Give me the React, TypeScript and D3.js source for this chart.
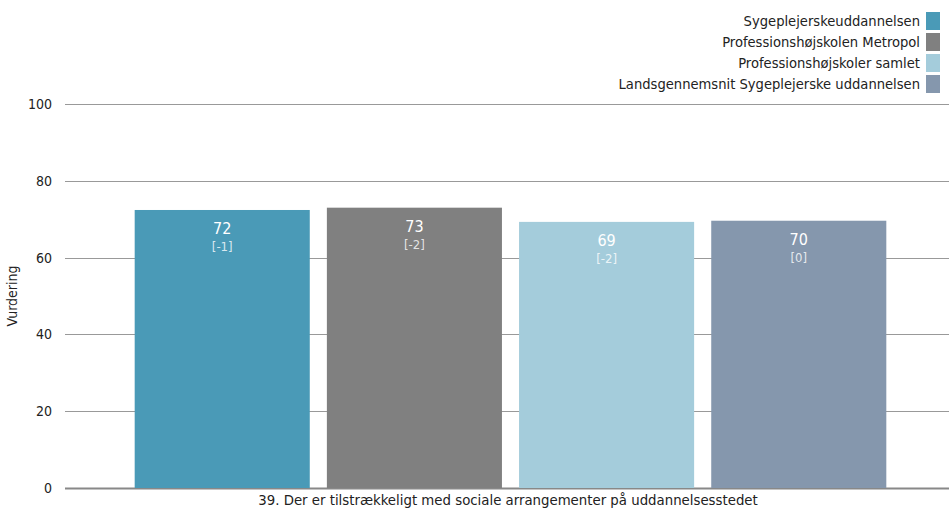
import { useRef, useEffect } from "react";
import * as d3 from "d3";

const series = [
  "Sygeplejerskeuddannelsen",
  "Professionshøjskolen Metropol",
  "Professionshøjskoler samlet",
  "Landsgennemsnit Sygeplejerske uddannelsen",
];
const values = [72.4, 73.0, 69.3, 69.6];
const changes = ["[-1]", "[-2]", "[-2]", "[0]"];
const colors = ["#4a9ab7", "#808080", "#a4ccdb", "#8597ad"];
const yTicks = [0, 20, 40, 60, 80, 100];
const category = "39. Der er tilstrækkeligt med sociale arrangementer på uddannelsesstedet";

const W = 949;
const H = 510;
const FONT = "Tahoma, 'DejaVu Sans Condensed', 'Liberation Sans', sans-serif";

export default function App() {
  const ref = useRef(null);

  useEffect(() => {
    const svg = d3.select(ref.current);
    svg.selectAll("*").remove();

    const y = d3.scaleLinear().domain([0, 100]).range([488, 104]);
    const x = d3.scaleBand().domain(series).range([127, 894]).paddingInner(0.089).paddingOuter(0.04);

    // gridlines
    svg
      .append("g")
      .selectAll("line")
      .data(yTicks)
      .join("line")
      .attr("x1", 65)
      .attr("x2", W)
      .attr("y1", (d) => Math.round(y(d)) + 0.5)
      .attr("y2", (d) => Math.round(y(d)) + 0.5)
      .attr("stroke", (d) => (d === 0 ? "#888" : "#999"))
      .attr("stroke-width", (d) => (d === 0 ? 2 : 1));

    svg
      .append("g")
      .selectAll("text")
      .data(yTicks)
      .join("text")
      .attr("x", 52)
      .attr("y", (d) => y(d))
      .attr("dy", "0.35em")
      .attr("text-anchor", "end")
      .attr("font-size", 14)
      .attr("fill", "#222")
      .text((d) => d);

    svg
      .append("text")
      .attr("transform", `translate(17,${y(50)}) rotate(-90)`)
      .attr("text-anchor", "middle")
      .attr("font-size", 14)
      .attr("fill", "#222")
      .text("Vurdering");

    const bars = svg.append("g").selectAll("g").data(series).join("g");
    bars
      .append("rect")
      .attr("x", (d) => x(d))
      .attr("width", x.bandwidth())
      .attr("y", (d, i) => y(values[i]))
      .attr("height", (d, i) => y(0) - y(values[i]))
      .attr("fill", (d, i) => colors[i]);
    bars
      .append("text")
      .attr("x", (d) => x(d) + x.bandwidth() / 2)
      .attr("y", (d, i) => y(values[i]) + 24)
      .attr("text-anchor", "middle")
      .attr("font-size", 16)
      .attr("fill", "#fff")
      .text((d, i) => Math.round(values[i]));
    bars
      .append("text")
      .attr("x", (d) => x(d) + x.bandwidth() / 2)
      .attr("y", (d, i) => y(values[i]) + 41)
      .attr("text-anchor", "middle")
      .attr("font-size", 13)
      .attr("fill", "#fff")
      .attr("fill-opacity", 0.8)
      .text((d, i) => changes[i]);

    svg
      .append("text")
      .attr("x", 508)
      .attr("y", 505)
      .attr("text-anchor", "middle")
      .attr("font-size", 14.8)
      .attr("fill", "#222")
      .text(category);

    // legend
    const leg = svg
      .append("g")
      .selectAll("g")
      .data(series)
      .join("g")
      .attr("transform", (d, i) => `translate(0,${12 + i * 21})`);
    leg
      .append("rect")
      .attr("x", 926)
      .attr("y", 0)
      .attr("width", 14)
      .attr("height", 18)
      .attr("fill", (d, i) => colors[i]);
    leg
      .append("text")
      .attr("x", 920)
      .attr("y", 9)
      .attr("dy", "0.35em")
      .attr("text-anchor", "end")
      .attr("font-size", 14.6)
      .attr("fill", "#222")
      .text((d) => d);
  }, []);

  return (
    <svg
      ref={ref}
      width={W}
      height={H}
      style={{ position: "absolute", left: 0, top: 0, fontFamily: FONT }}
    ></svg>
  );
}
